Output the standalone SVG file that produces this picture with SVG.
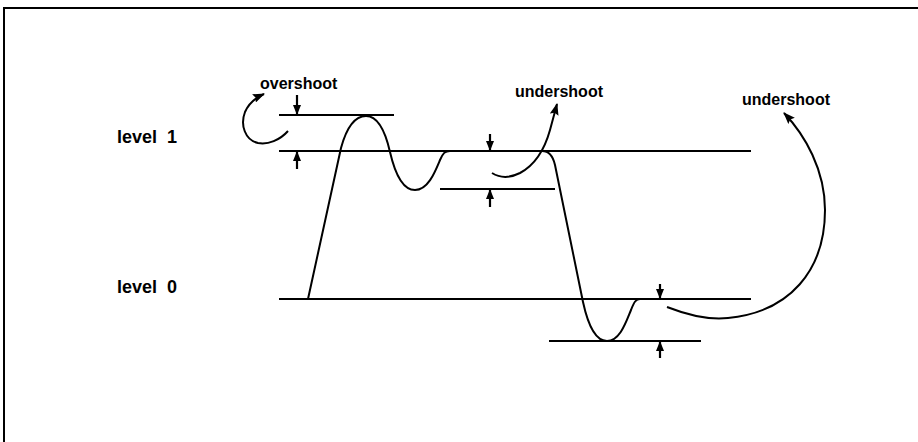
<svg xmlns="http://www.w3.org/2000/svg" width="918" height="442" viewBox="0 0 918 442">
<style>
.ln{stroke:#000;stroke-width:2;fill:none}
.wv{stroke:#000;stroke-width:2;fill:none;stroke-linejoin:round}
.ar{stroke:#000;stroke-width:2;fill:none;marker-end:url(#ah)}
.sa{stroke:#000;stroke-width:2.2;fill:none;marker-end:url(#sh)}
.lb{font-family:"Liberation Sans",Arial,sans-serif;font-weight:bold;fill:#000}
</style>
<defs>
<marker id="ah" markerUnits="userSpaceOnUse" markerWidth="12" markerHeight="9" refX="11" refY="4.5" orient="auto">
<path d="M0,0 L12,4.5 L0,9 L2,4.5 z" fill="#000"/>
</marker>
<marker id="sh" markerUnits="userSpaceOnUse" markerWidth="10" markerHeight="8" refX="9" refY="4" orient="auto">
<path d="M0,0 L10,4 L0,8 z" fill="#000"/>
</marker>
</defs>
<rect width="918" height="442" fill="#fff"/>
<g id="frame">
<path class="ln" d="M4,442 V8 H918"/>
</g>
<g id="level-lines">
<line class="ln" x1="279" y1="115" x2="394" y2="115"/>
<line class="ln" x1="279" y1="151" x2="751" y2="151"/>
<line class="ln" x1="440" y1="189" x2="555" y2="189"/>
<line class="ln" x1="279" y1="299" x2="751" y2="299"/>
<line class="ln" x1="549" y1="341" x2="701" y2="341"/>
</g>
<g id="waveform">
<path class="wv" d="M308,299 L341,148 C347,126 355,116 366,116 C377,116 385,130 390,152 C396,178 405,190 415,190 C428,190 435,172 440,160 C443,153 445,151 450,151 L542,151 C549,151 553,156 555,165 L583,302 C588,325 596,341 607,341 C620,341 626,322 631,310 C634,302 636,299 640,299"/>
</g>
<g id="labels">
<text class="lb" x="117" y="143" font-size="18" style="word-spacing:5px">level 1</text>
<text class="lb" x="117" y="293" font-size="18" style="word-spacing:5px">level 0</text>
<text class="lb" x="260" y="89" font-size="16">overshoot</text>
<text class="lb" x="515" y="97" font-size="16">undershoot</text>
<text class="lb" x="742" y="105" font-size="16">undershoot</text>
</g>
<g id="connectors">
<path class="ar" d="M288,131 C280,140 268,145 258,143 C245,140 240,125 245,112 C249,103 255,98 264,94"/>
<path class="ar" d="M492,173 C500,178 510,178 520,173 C535,165 545,148 550,130 L557,104"/>
<path class="ar" d="M667,307 C690,316 710,320 728,318 C790,312 825,270 825,210 C825,170 805,135 784,113"/>
<path class="sa" d="M297,95 V114"/>
<path class="sa" d="M297,169 V152"/>
<path class="sa" d="M490,134 V150"/>
<path class="sa" d="M490,207 V190"/>
<path class="sa" d="M660,284 V298"/>
<path class="sa" d="M660,358 V342"/>
</g>
</svg>
